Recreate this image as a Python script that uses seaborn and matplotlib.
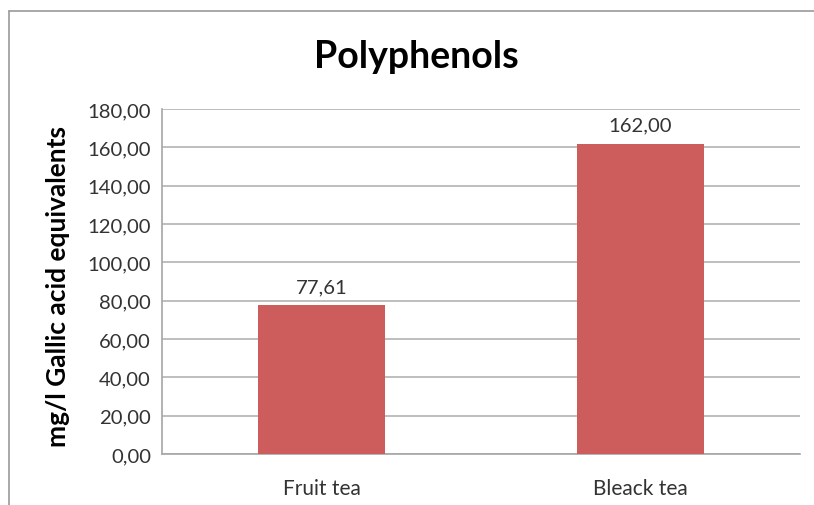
import matplotlib
matplotlib.use("Agg")
import matplotlib.pyplot as plt
import matplotlib.ticker as mticker
from matplotlib.lines import Line2D
import seaborn as sns
import pandas as pd

# Data
categories = ["Fruit tea", "Bleack tea"]
values = [77.61, 162.00]
value_labels = ["77,61", "162,00"]

df = pd.DataFrame({"tea": categories, "polyphenols": values})

sns.set_theme(style="white")
plt.rcParams["font.family"] = ["Lato", "DejaVu Sans"]

fig = plt.figure(figsize=(8.14, 5.06), dpi=100)
ax = fig.add_axes([162 / 814, 1 - 455 / 506, (800 - 162) / 814, (455 - 110) / 506])

sns.barplot(data=df, x="tea", y="polyphenols", color="#CD5C5C", width=0.4,
            saturation=1, linewidth=0, ax=ax, zorder=3)

ax.set_ylim(0, 180)
ax.set_yticks(range(0, 181, 20))
ax.yaxis.set_major_formatter(mticker.FuncFormatter(lambda v, p: f"{v:.2f}".replace(".", ",")))
ax.grid(axis="y", color="#b3b3b3", linewidth=1.2, zorder=0)
ax.tick_params(axis="both", length=0, labelsize=14.6, colors="#333333")
ax.tick_params(axis="y", pad=8)
ax.tick_params(axis="x", labelsize=15, pad=17)

for s in ["top", "right"]:
    ax.spines[s].set_visible(False)
for s in ["left", "bottom"]:
    ax.spines[s].set_color("#a6a6a6")
    ax.spines[s].set_linewidth(1.2)

# value labels above the bars
for patch, lab in zip(ax.patches, value_labels):
    ax.annotate(lab, (patch.get_x() + patch.get_width() / 2, patch.get_height()),
                xytext=(0, 7), textcoords="offset points", ha="center", va="bottom",
                fontsize=14.6, color="#333333")

ax.set_xlabel("")
ax.set_ylabel("")
fig.text(58 / 814, 1 - 287 / 506, "mg/l Gallic acid equivalents", rotation=90,
         ha="center", va="center", fontsize=19, fontweight="bold", color="black")
fig.text(0.511, 1 - 57 / 506, "Polyphenols", ha="center", va="center",
         fontsize=27, fontweight="bold", color="black")

# outer chart frame (left and top edges visible)
fig.add_artist(Line2D([9 / 814, 9 / 814], [0, 1 - 12 / 506], color="#9a9a9a", linewidth=1.2))
fig.add_artist(Line2D([9 / 814, 1], [1 - 12 / 506, 1 - 12 / 506], color="#9a9a9a", linewidth=1.2))

fig.savefig("out.png", dpi=100)
